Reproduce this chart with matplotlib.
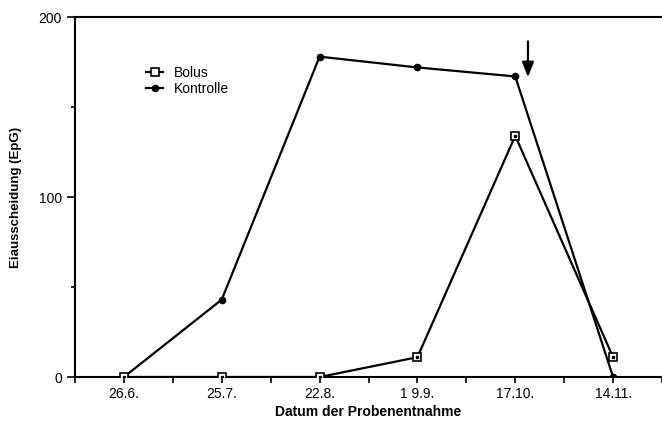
import matplotlib
matplotlib.use("Agg")
import numpy as np
import matplotlib.pyplot as plt
from matplotlib.ticker import MultipleLocator

plt.rcParams['font.family'] = ['Liberation Sans', 'DejaVu Sans']

dates = ["26.6.", "25.7.", "22.8.", "1 9.9.", "17.10.", "14.11."]
kontrolle = [0, 43, 178, 172, 167, 0]
bolus = [0, 0, 0, 11, 134, 11]

x = np.arange(len(dates))

fig = plt.figure(figsize=(6.62, 4.21), dpi=100)
ax = fig.add_axes([0.1133, 0.1045, 0.8867, 0.855])

ax.plot(x, kontrolle, color='black', lw=1.6, marker='o', ms=4.5,
        label='Kontrolle', zorder=3)
ax.plot(x, bolus, color='black', lw=1.6, marker='s', ms=5.5,
        mfc='white', mec='black', mew=1.2, label='Bolus', zorder=4)
ax.plot(x, bolus, ls='none', marker='s', ms=1.5, color='black', zorder=5)

# Pfeil ueber 17.10.
ax.annotate('', xy=(4.13, 165), xytext=(4.13, 188),
            arrowprops=dict(arrowstyle='-|>,head_width=0.35,head_length=0.9',
                            color='black', lw=1.6))

ax.set_xlim(-0.5, 5.5)
ax.set_ylim(0, 200)
ax.set_xticks(x)
ax.set_xticklabels(dates, fontsize=10)
ax.xaxis.set_minor_locator(MultipleLocator(0.5))
ax.set_yticks([0, 100, 200])
ax.yaxis.set_minor_locator(MultipleLocator(50))
ax.tick_params(axis='x', which='both', direction='out', length=4, width=1.2, pad=3)
ax.tick_params(axis='y', which='both', direction='out', length=6, width=1.2, labelsize=10)
ax.tick_params(axis='y', which='minor', length=3)

for s in ['left', 'bottom', 'top']:
    ax.spines[s].set_linewidth(1.5)
ax.spines['right'].set_visible(False)

ax.set_xlabel('Datum der Probenentnahme', fontsize=10, fontweight='bold', labelpad=3)
ax.set_ylabel('Eiausscheidung (EpG)', fontsize=9.5, fontweight='bold', labelpad=12)

h, l = ax.get_legend_handles_labels()
ax.legend([h[1], h[0]], [l[1], l[0]], loc='upper left',
          bbox_to_anchor=(0.1, 0.9), frameon=False, fontsize=10,
          handlelength=1.2, handletextpad=0.8, labelspacing=0.2)

fig.savefig('out.png', dpi=100)
